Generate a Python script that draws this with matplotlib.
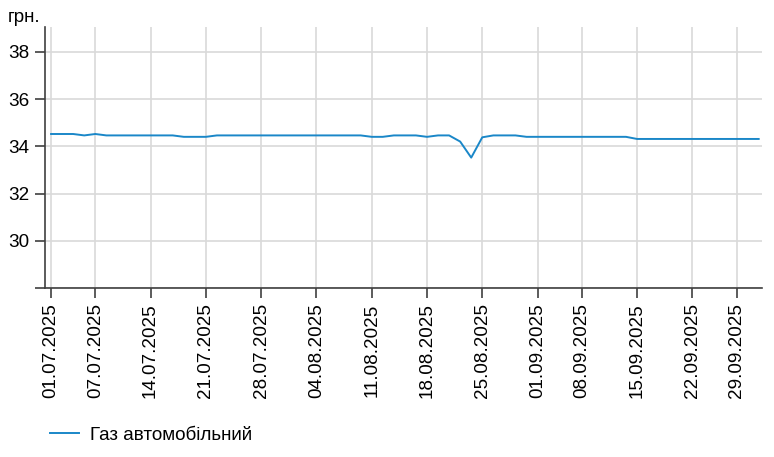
import matplotlib
matplotlib.use("Agg")
import matplotlib.pyplot as plt
import pandas as pd

plt.rcParams['font.family'] = ['Liberation Sans', 'DejaVu Sans']

# trading days shown on the chart (two days in September have no data)
all_days = pd.bdate_range("2025-07-01", "2025-10-01")
missing_days = pd.to_datetime(["2025-09-05", "2025-09-26"])
dates = [d for d in all_days if d not in missing_days]

# price of autogas, UAH per litre
prices = ([34.52] * 3 + [34.46] + [34.52] + [34.46] * 7 + [34.40] * 3
          + [34.46] * 14 + [34.40] * 2 + [34.46] * 3 + [34.40]
          + [34.46] * 2 + [34.20, 33.52, 34.38] + [34.46] * 3
          + [34.40] * 10 + [34.31] * 12)

series_name = "Газ автомобільний"
y_unit = "грн."
y_ticks = [28, 30, 32, 34, 36, 38]
y_tick_labels = ["", "30", "32", "34", "36", "38"]

line_color = "#1a87c8"
grid_color = "#d9d9d9"
axis_color = "#404040"
fs = 13.6

fig = plt.figure(figsize=(7.74, 4.57), dpi=100)
ax = fig.add_axes([45 / 774, 1 - 288 / 457, (762 - 45) / 774, (288 - 27) / 457])

x = list(range(len(dates)))
line, = ax.plot(x, prices, color=line_color, lw=1.4, label=series_name)

# tick labels only on Mondays
tick_pos = [0] + [i for i, d in enumerate(dates) if d.weekday() == 0]
tick_lab = [dates[i].strftime("%d.%m.%Y") for i in tick_pos]
ax.set_xticks(tick_pos)
ax.set_xticklabels(tick_lab, rotation=90, fontsize=fs)
ax.set_xlim(-0.55, len(dates) - 1 + 0.3)

ax.set_yticks(y_ticks)
ax.set_yticklabels(y_tick_labels, fontsize=fs)
ax.set_ylim(28, 39.05)

ax.grid(True, color=grid_color, lw=1.2)
ax.set_axisbelow(True)
for s in ["top", "right"]:
    ax.spines[s].set_visible(False)
for s in ["left", "bottom"]:
    ax.spines[s].set_color(axis_color)
    ax.spines[s].set_linewidth(1.2)
ax.tick_params(axis="both", colors=axis_color, length=7, width=1.2,
               labelcolor="black", pad=4)

fig.text(8 / 774, 1 - 21.5 / 457, y_unit, fontsize=fs, va="baseline", ha="left")

fig.legend(handles=[line], loc="center left", bbox_to_anchor=(50 / 774, 22 / 457),
           frameon=False, fontsize=fs, handlelength=1.55, handletextpad=0.55,
           borderpad=0, borderaxespad=0)

fig.savefig("out.png", dpi=100)
